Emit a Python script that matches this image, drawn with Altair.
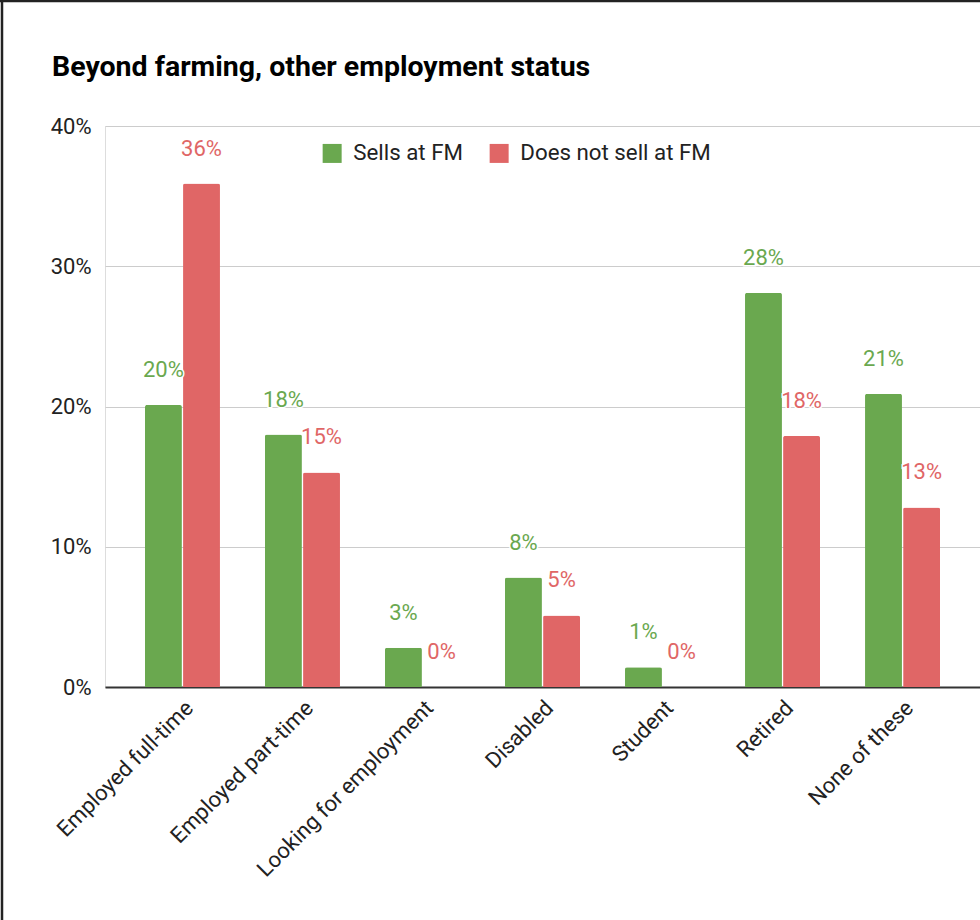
import altair as alt
import pandas as pd

categories = ["Employed full-time", "Employed part-time", "Looking for employment",
              "Disabled", "Student", "Retired", "None of these"]
series = ["Sells at FM", "Does not sell at FM"]
sells = [0.201, 0.180, 0.028, 0.078, 0.014, 0.281, 0.209]
not_sells = [0.359, 0.153, 0.0, 0.051, 0.0, 0.179, 0.128]
colors = ["#6aa84f", "#e06666"]
y_ticks = [0, 0.1, 0.2, 0.3, 0.4]
title_text = ["Beyond farming, other employment status"]

rows = []
for c, a, b in zip(categories, sells, not_sells):
    rows.append({"category": c, "series": series[0], "value": a})
    rows.append({"category": c, "series": series[1], "value": b})
df = pd.DataFrame(rows)

FONT = "Roboto"
FS = 22

x_enc = alt.X("category:N", sort=categories, title=None,
              scale=alt.Scale(paddingInner=0.375, paddingOuter=0.333),
              axis=alt.Axis(labelAngle=-45, labelFontSize=FS, labelColor="#222222",
                            labelFont=FONT, labelPadding=10, ticks=False,
                            domainColor="#333333", domainWidth=2, labelLimit=400))
xoff = alt.XOffset("series:N", sort=series, scale=alt.Scale(paddingInner=0.03))
y_enc = alt.Y("value:Q", title=None,
              scale=alt.Scale(domain=[0, 0.4]),
              axis=alt.Axis(values=y_ticks, format=".0%", labelFontSize=FS,
                            labelColor="#222222", labelFont=FONT, ticks=False,
                            domain=False, gridColor="#cccccc", labelPadding=14))
color_enc = alt.Color("series:N", sort=series,
                      scale=alt.Scale(domain=series, range=colors),
                      legend=alt.Legend(title=None, orient="none", direction="horizontal",
                                        legendX=216, legendY=16, symbolType="square",
                                        symbolSize=361, symbolStrokeWidth=0,
                                        labelFontSize=FS + 0.3, labelFont=FONT, padding=0,
                                        labelColor="#222222", labelOffset=10,
                                        columnPadding=25, labelLimit=400))

base = alt.Chart(df)

bars = base.mark_bar(cornerRadiusTopLeft=2, cornerRadiusTopRight=2).encode(
    x=x_enc, xOffset=xoff, y=y_enc, color=color_enc)

halo = base.mark_text(baseline="middle", dy=-35, fontSize=FS, font=FONT,
                      stroke="white", strokeWidth=3, fill="white").encode(
    x=alt.X("category:N", sort=categories),
    xOffset=alt.XOffset("series:N", sort=series),
    y="value:Q",
    text=alt.Text("value:Q", format=".0%"))

labels = base.mark_text(baseline="middle", dy=-35, fontSize=FS, font=FONT).encode(
    x=alt.X("category:N", sort=categories),
    xOffset=alt.XOffset("series:N", sort=series),
    y="value:Q",
    text=alt.Text("value:Q", format=".0%"),
    color=alt.Color("series:N", sort=series, scale=alt.Scale(domain=series, range=colors), legend=None))

title = alt.Chart(pd.DataFrame({"t": title_text})).mark_text(
    align="left", baseline="alphabetic", fontSize=28.5, font=FONT, fontWeight="bold",
    color="#000000").encode(x=alt.value(-53), y=alt.value(-50), text="t:N")

border_left = alt.Chart(pd.DataFrame({"a": [0]})).mark_rule(color="#222222", strokeWidth=2.5).encode(
    x=alt.value(-103), y=alt.value(-126), y2=alt.value(794))
border_top = alt.Chart(pd.DataFrame({"a": [0]})).mark_rule(color="#222222", strokeWidth=2.5).encode(
    x=alt.value(-105), x2=alt.value(875), y=alt.value(-125))

chart = alt.layer(bars, halo, labels, title, border_left, border_top).properties(
    width=875, height=561,
    autosize=alt.AutoSizeParams(type="none"),
    padding={"left": 105, "top": 126, "right": 0, "bottom": 233},
).configure_view(stroke=None).configure(background="white")

chart.save("out.html", embed_options={"renderer": "svg", "actions": False})
